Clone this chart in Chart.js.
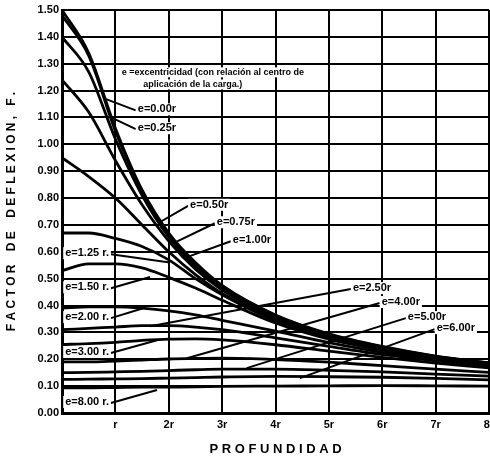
<!DOCTYPE html>
<html>
<head>
<meta charset="utf-8">
<script src="https://cdn.jsdelivr.net/npm/chart.js@4"></script>
<style>
  html, body { margin: 0; padding: 0; background: #fff; }
  #wrap { width: 490px; height: 461px; }
</style>
</head>
<body>
<div id="wrap"><canvas id="grafico" width="490" height="461"></canvas></div>
<script>
// profundidad (en radios r)
const profundidad = [0, 0.5, 1, 1.5, 2, 2.5, 3, 4, 5, 6, 7, 8];

// factor de deflexion F para cada excentricidad e
const f000 = [1.50, 1.34, 1.06, 0.83, 0.67, 0.56, 0.475, 0.365, 0.295, 0.248, 0.212, 0.187];
const f025 = [1.48, 1.33, 1.05, 0.825, 0.665, 0.553, 0.472, 0.363, 0.293, 0.246, 0.211, 0.186];
const f050 = [1.40, 1.27, 1.02, 0.81, 0.655, 0.545, 0.466, 0.36, 0.29, 0.245, 0.21, 0.185];
const f075 = [1.24, 1.12, 0.94, 0.775, 0.64, 0.535, 0.458, 0.355, 0.288, 0.243, 0.209, 0.184];
const f100 = [0.95, 0.88, 0.80, 0.70, 0.60, 0.515, 0.445, 0.348, 0.284, 0.240, 0.207, 0.182];
const f125 = [0.67, 0.67, 0.65, 0.62, 0.57, 0.50, 0.44, 0.343, 0.28, 0.237, 0.205, 0.181];
const f150 = [0.53, 0.555, 0.555, 0.54, 0.505, 0.465, 0.42, 0.335, 0.275, 0.234, 0.203, 0.179];
const f200 = [0.39, 0.395, 0.395, 0.39, 0.38, 0.365, 0.345, 0.305, 0.262, 0.226, 0.198, 0.176];
const f250 = [0.31, 0.315, 0.32, 0.325, 0.325, 0.32, 0.31, 0.28, 0.248, 0.218, 0.194, 0.173];
const f300 = [0.255, 0.258, 0.263, 0.27, 0.275, 0.276, 0.272, 0.254, 0.23, 0.207, 0.186, 0.168];
const f400 = [0.19, 0.19, 0.193, 0.197, 0.201, 0.203, 0.204, 0.199, 0.189, 0.176, 0.163, 0.151];
const f500 = [0.15, 0.151, 0.153, 0.155, 0.158, 0.161, 0.163, 0.163, 0.159, 0.153, 0.145, 0.137];
const f600 = [0.125, 0.126, 0.127, 0.128, 0.13, 0.132, 0.134, 0.136, 0.135, 0.133, 0.129, 0.123];
const f800 = [0.094, 0.094, 0.095, 0.096, 0.096, 0.097, 0.099, 0.1, 0.101, 0.102, 0.101, 0.1];

const series = [
  ["e=0.00r", f000], ["e=0.25r", f025], ["e=0.50r", f050], ["e=0.75r", f075],
  ["e=1.00r", f100], ["e=1.25r", f125], ["e=1.50r", f150], ["e=2.00r", f200],
  ["e=2.50r", f250], ["e=3.00r", f300], ["e=4.00r", f400], ["e=5.00r", f500],
  ["e=6.00r", f600], ["e=8.00r", f800]
];

// etiquetas: texto, posicion (x, F) y punta de la flecha (x, F)
const etiquetas = [
  ["e=0.00r", 1.42, 1.13, 0.80, 1.17],
  ["e=0.25r", 1.42, 1.06, 0.92, 1.10],
  ["e=0.50r", 2.40, 0.775, 1.83, 0.71],
  ["e=0.75r", 2.90, 0.71, 2.12, 0.635],
  ["e=1.00r", 3.20, 0.643, 2.34, 0.58],
  ["e=1.25 r.", 0.06, 0.595, 2.02, 0.56],
  ["e=1.50 r.", 0.06, 0.468, 1.65, 0.506],
  ["e=2.00 r.", 0.06, 0.357, 1.52, 0.39],
  ["e=3.00 r.", 0.06, 0.227, 1.78, 0.271],
  ["e=8.00 r.", 0.06, 0.041, 1.78, 0.0855],
  ["e=2.50r", 5.45, 0.465, 1.65, 0.323],
  ["e=4.00r", 5.99, 0.413, 2.34, 0.204],
  ["e=5.00r", 6.48, 0.357, 3.46, 0.167],
  ["e=6.00r", 7.02, 0.316, 4.46, 0.13]
];

const nota = ["e =excentricidad (con relación al centro de", "aplicación de la carga.)"];

const fuente = "'Liberation Sans', Arial, sans-serif";

const etiquetasPlugin = {
  id: "etiquetas",
  afterDatasetsDraw(chart) {
    const ctx = chart.ctx;
    const sx = chart.scales.x, sy = chart.scales.y;
    ctx.save();
    ctx.font = "bold 11px " + fuente;
    ctx.textBaseline = "middle";
    ctx.textAlign = "left";
    etiquetas.forEach(([txt, x, y, ax, ay]) => {
      const px = sx.getPixelForValue(x), py = sy.getPixelForValue(y);
      const w = ctx.measureText(txt).width;
      const qx = sx.getPixelForValue(ax), qy = sy.getPixelForValue(ay);
      ctx.strokeStyle = "#000";
      ctx.lineWidth = 2;
      ctx.beginPath();
      const startX = qx < px ? px - 2 : px + w + 2;
      ctx.moveTo(startX, py + 1);
      ctx.lineTo(qx, qy);
      ctx.stroke();
      ctx.fillStyle = "#fff";
      ctx.fillRect(px - 2, py - 6, w + 4, 12);
      ctx.fillStyle = "#000";
      ctx.fillText(txt, px, py);
    });
    // nota de excentricidad
    ctx.font = "bold 9px " + fuente;
    const n1x = sx.getPixelForValue(1.12), n1y = sy.getPixelForValue(1.268);
    const n2x = sx.getPixelForValue(1.52), n2y = sy.getPixelForValue(1.223);
    const w1 = ctx.measureText(nota[0]).width, w2 = ctx.measureText(nota[1]).width;
    ctx.fillStyle = "#fff";
    ctx.fillRect(n1x - 2, n1y - 5, w1 + 4, 10);
    ctx.fillRect(n2x - 2, n2y - 5, w2 + 4, 10);
    ctx.fillStyle = "#000";
    ctx.fillText(nota[0], n1x, n1y);
    ctx.fillText(nota[1], n2x, n2y);
    ctx.restore();
  }
};

const ctx = document.getElementById("grafico").getContext("2d");
const chart = new Chart(ctx, {
  type: "line",
  data: {
    datasets: series.map(([nombre, valores]) => ({
      label: nombre,
      data: profundidad.map((p, i) => ({ x: p, y: valores[i] })),
      borderColor: "#000",
      borderWidth: 2.8,
      pointRadius: 0,
      fill: false,
      cubicInterpolationMode: "monotone"
    }))
  },
  options: {
    responsive: false,
    animation: false,
    layout: { padding: { top: 10, right: 1, left: 0, bottom: 0 } },
    plugins: { legend: { display: false }, tooltip: { enabled: false } },
    scales: {
      x: {
        type: "linear",
        min: 0,
        max: 8,
        ticks: {
          stepSize: 1,
          color: "#000",
          font: { family: fuente, size: 11, weight: "bold" },
          padding: 5,
          callback: (v) => (v === 0 ? "" : v === 1 ? "r" : v + "r")
        },
        grid: { color: "#000", lineWidth: 2, drawTicks: false },
        border: { color: "#000", width: 3 },
        title: {
          display: true,
          text: "P R O F U N D I D A D",
          color: "#000",
          font: { family: fuente, size: 13, weight: "bold" },
          padding: { top: 10 }
        },
        afterFit: (s) => {
          s.height = 48;
          s.paddingLeft = 0;
          s.paddingRight = 0;
        }
      },
      y: {
        min: 0,
        max: 1.5,
        ticks: {
          stepSize: 0.1,
          color: "#000",
          font: { family: fuente, size: 11, weight: "bold" },
          padding: 3,
          callback: (v) => v.toFixed(2)
        },
        grid: { color: "#000", lineWidth: 2, drawTicks: false },
        border: { color: "#000", width: 3 },
        title: {
          display: true,
          text: "F A C T O R    D E    D E F L E X I O N ,   F .",
          color: "#000",
          font: { family: fuente, size: 12, weight: "bold" },
          padding: { bottom: 0 }
        },
        afterFit: (s) => { s.width = 62; }
      }
    }
  },
  plugins: [etiquetasPlugin]
});
</script>
</body>
</html>
